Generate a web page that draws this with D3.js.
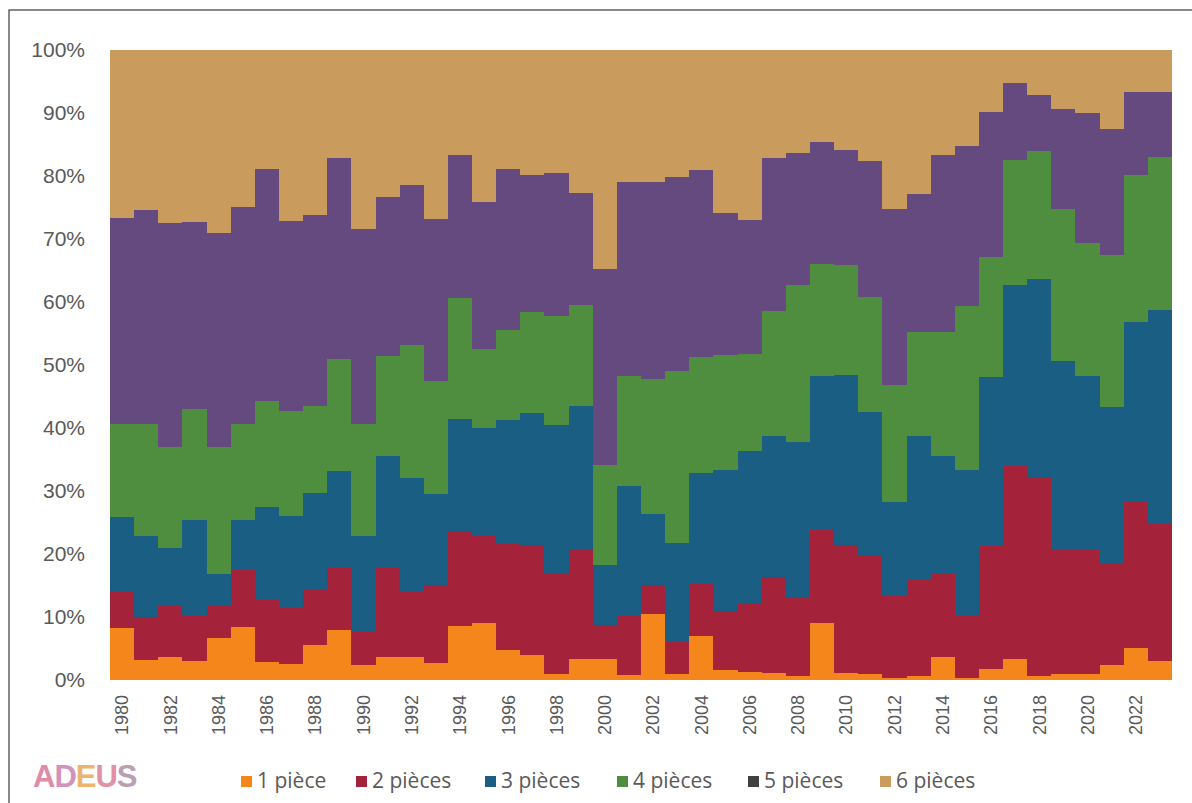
<!DOCTYPE html>
<html><head><meta charset="utf-8">
<script src="https://cdn.jsdelivr.net/npm/d3@7"></script>
<style>body{margin:0;background:#fff} svg{display:block}</style>
</head><body><svg id="c" width="1192" height="803"></svg>
<script>
const years = [1980,1981,1982,1983,1984,1985,1986,1987,1988,1989,1990,1991,1992,1993,1994,1995,1996,1997,1998,1999,2000,2001,2002,2003,2004,2005,2006,2007,2008,2009,2010,2011,2012,2013,2014,2015,2016,2017,2018,2019,2020,2021,2022,2023];
const piece1 = [8.2,3.2,3.6,3.0,6.6,8.4,2.8,2.5,5.5,8.0,2.4,3.7,3.7,2.7,8.6,9.1,4.8,3.9,1.0,3.4,3.4,0.8,10.4,1.0,7.0,1.6,1.3,1.1,0.7,9.1,1.1,1.0,0.3,0.7,3.6,0.3,1.8,3.3,0.7,1.0,1.0,2.4,5.1,3.0];
const piece2 = [6.0,6.8,8.1,7.2,5.1,9.1,10.1,9.0,8.8,10.0,5.4,14.2,10.5,12.4,15.0,13.8,16.9,17.5,15.8,17.2,5.3,9.4,4.7,5.0,8.3,9.3,11.0,15.2,12.5,14.7,20.4,18.9,13.1,15.1,13.3,9.9,19.4,30.7,31.5,19.6,19.6,16.2,23.1,21.8];
const piece3 = [11.6,12.8,9.3,15.2,5.1,7.9,14.6,14.5,15.4,15.2,15.0,17.6,17.8,14.5,17.8,17.1,19.6,21.0,23.6,22.9,9.5,20.6,11.2,15.7,17.6,22.5,24.1,22.4,24.6,24.4,26.9,22.6,14.8,23.0,18.7,23.2,26.9,28.7,31.5,30.0,27.7,24.7,28.7,33.9];
const piece4 = [14.8,17.8,16.0,17.6,20.2,15.2,16.8,16.7,13.8,17.7,17.9,16.0,21.2,17.8,19.3,12.5,14.3,16.0,17.4,16.1,15.9,17.4,21.5,27.4,18.4,18.2,15.4,19.8,24.9,17.9,17.5,18.3,18.7,16.4,19.7,26.0,19.1,19.9,20.3,24.2,21.1,24.2,23.2,24.3];
const piece5 = [32.7,34.0,35.5,29.7,34.0,34.5,36.8,30.2,30.3,31.9,30.9,25.2,25.3,25.7,22.6,23.4,25.5,21.8,22.6,17.7,31.2,30.8,31.3,30.7,29.7,22.6,21.2,24.3,20.9,19.3,18.2,21.6,27.9,22.0,28.0,25.3,23.0,12.1,8.8,15.8,20.6,20.0,13.3,10.3];
const piece6 = [26.7,25.4,27.5,27.3,29.0,24.9,18.9,27.1,26.2,17.2,28.4,23.3,21.5,26.9,16.7,24.1,18.9,19.8,19.6,22.7,34.7,21.0,20.9,20.2,19.0,25.8,27.0,17.2,16.4,14.6,15.9,17.6,25.2,22.8,16.7,15.3,9.8,5.3,7.2,9.4,10.0,12.5,6.6,6.7];
const seriesNames = ["1 pièce","2 pièces","3 pièces","4 pièces","5 pièces","6 pièces"];
const seriesColors = ["#F5861C","#A4233A","#1B5E84","#4F8D3F","#644A7F","#C99B5D"];
const legendColors = ["#F5861C","#A4233A","#1B5E84","#4F8D3F","#404040","#C99B5D"];
const yTickValues = [0,10,20,30,40,50,60,70,80,90,100];
const xTickYears = [1980,1982,1984,1986,1988,1990,1992,1994,1996,1998,2000,2002,2004,2006,2008,2010,2012,2014,2016,2018,2020,2022];
const logoLetters = ["A","D","E","U","S"];
const logoColors = ["#D8789C","#C97FB2","#E8A955","#DE7D95","#AE8FA6"];

const allSeries = [piece1,piece2,piece3,piece4,piece5,piece6];
const rows = years.map((yr,i)=>{
  const r = {year: yr};
  seriesNames.forEach((n,k)=> r[n] = allSeries[k][i]);
  return r;
});

const svg = d3.select("#c");
const fontAxis = "'Liberation Sans', Arial, sans-serif";
const textCol = "#595959";

// frame
svg.append("rect").attr("x",9).attr("y",10).attr("width",1300).attr("height",900)
  .attr("fill","none").attr("stroke","#3a3a3a").attr("stroke-width",1.2);

const x = d3.scaleBand().domain(years).range([110,1172]).padding(0);
const y = d3.scaleLinear().domain([0,1]).range([680,50]);

const stack = d3.stack().keys(seriesNames).offset(d3.stackOffsetExpand);
const stacked = stack(rows);

svg.append("g").attr("shape-rendering","crispEdges")
  .selectAll("g").data(stacked).join("g")
  .attr("fill",(d,i)=>seriesColors[i])
  .selectAll("rect").data(d=>d).join("rect")
  .attr("x",d=>Math.round(x(d.data.year)))
  .attr("width",d=>Math.round(x(d.data.year)+x.bandwidth())-Math.round(x(d.data.year)))
  .attr("y",d=>Math.round(y(d[1])))
  .attr("height",d=>Math.round(y(d[0]))-Math.round(y(d[1])));

// y axis
const yAxis = svg.append("g").attr("transform","translate(110,0)")
  .call(d3.axisLeft(y).tickValues(yTickValues.map(v=>v/100)).tickFormat(d3.format(".0%")).tickSize(0).tickPadding(25));
yAxis.select(".domain").remove();
yAxis.selectAll("text").attr("font-family",fontAxis).attr("font-size",21).attr("fill",textCol);

// x axis
const xAxis = svg.append("g").attr("transform","translate(0,680)")
  .call(d3.axisBottom(x).tickValues(xTickYears).tickSize(0));
xAxis.select(".domain").remove();
xAxis.selectAll("text")
  .attr("font-family",fontAxis).attr("font-size",18).attr("fill",textCol)
  .attr("transform","rotate(-90)")
  .attr("text-anchor","end")
  .attr("x",-15).attr("y",0).attr("dy","0.35em");

// legend
const legendX = [241,356,485,617,748,880];
const lg = svg.append("g").selectAll("g").data(seriesNames).join("g")
  .attr("transform",(d,i)=>`translate(${legendX[i]},781)`);
lg.append("rect").attr("x",0).attr("y",-5).attr("width",11).attr("height",11).attr("fill",(d,i)=>legendColors[i]);
lg.append("text").attr("x",16).attr("y",0).attr("dy","0.35em")
  .attr("font-family","'Open Sans', sans-serif").attr("font-size",21).attr("fill",textCol)
  .text(d=>d);

// logo
const logo = svg.append("text").attr("x",33).attr("y",787)
  .attr("font-family","'Liberation Sans', Arial, sans-serif").attr("font-weight","bold")
  .attr("font-size",31).attr("letter-spacing",-1).attr("opacity",0.85);
logo.selectAll("tspan").data(logoLetters).join("tspan")
  .attr("fill",(d,i)=>logoColors[i]).text(d=>d);
</script></body></html>
